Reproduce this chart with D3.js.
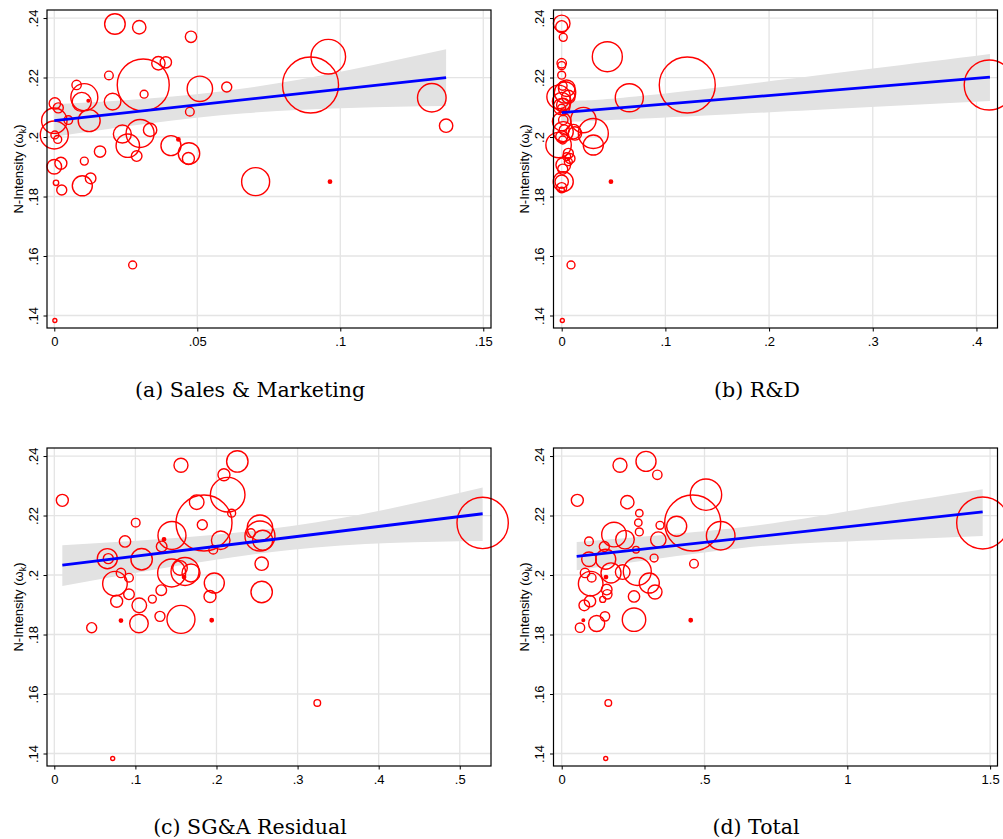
<!DOCTYPE html>
<html>
<head>
<meta charset="utf-8">
<script src="https://cdn.jsdelivr.net/npm/d3@7"></script>
<style>
body{margin:0;background:#fff;}
</style>
</head>
<body>
<script>

//------------------------------------------------------------------DATA
// each point: [x, N-intensity, weight]

var salesMkt = [
	[.0212,.2380,13.5],[.0297,.2369,5.7],[.0478,.2337,4.1],[.0958,.2270,38.2],
	[.0364,.2248,5.7],[.0390,.2251,4.1],[.0191,.2207,2.4],[.0311,.2175,86.2],
	[.0896,.2175,100],[.0509,.2162,20.6],[.0603,.2168,3.2],[.0078,.2175,2.8],
	[.0105,.2134,23.2],[.0096,.2118,11.5],[.0119,.2122,0.22],[.0204,.2119,8.8],
	[.0314,.2144,2.0],[.1320,.2132,26.1],[.1370,.2038,5.7],[.0474,.2085,2.4],
	[.0002,.2113,4.1],[.0014,.2098,3.2],[.0000,.2055,20.6],[.0049,.2057,2.4],
	[.0000,.2007,25],[.0002,.2007,2.0],[.0012,.1992,2.0],[.0122,.2055,15.4],
	[.0000,.1900,6.8],[.0023,.1912,4.6],[.0006,.1846,0.93],[.0026,.1822,3.2],
	[.0105,.1919,2.0],[.0098,.1836,12.8],[.0127,.1861,3.6],[.0160,.1951,4.1],
	[.0238,.2010,10.3],[.0257,.1971,17.5],[.0300,.2012,25],[.0335,.2024,5.7],
	[.0288,.1936,3.6],[.0408,.1971,12.8],[.0434,.1992,0.37],[.0471,.1945,14.6],
	[.0469,.1928,4.6],[.0704,.1850,25],[.0964,.1850,0.37],[.0274,.1570,2.0],
	[.0002,.1383,0.51]
]

var rnd = [
	[.0000,.2382,8.8],[.0000,.2371,4.6],[.0015,.2335,2.0],[.0000,.2248,2.8],
	[.0000,.2240,2.0],[.0000,.2208,2.0],[.0440,.2270,28.7],[.0010,.2172,2.4],
	[.0032,.2150,14.6],[-.0030,.2135,17.5],[.0000,.2119,11],[.0015,.2108,5.7],
	[.0000,.2097,2.0],[.0015,.2083,1.4],[.0209,.2057,20.6],[.0015,.2057,2.8],
	[.0000,.2052,11],[.0305,.2012,28.7],[.0305,.1973,12.8],[.0112,.2018,6.8],
	[.0015,.2018,12.8],[.0000,.2001,4.6],[.0010,.1990,2.0],[-.0030,.1973,20.6],
	[.0064,.1945,3.2],[.0080,.1928,3.2],[.0048,.1934,2.0],[.0064,.1917,2.0],
	[.0015,.1906,6.8],[.0010,.1892,3.2],[.0015,.1850,12.8],[.0000,.1850,5.7],
	[.0000,.1830,3.2],[.0000,.1822,0.93],[.0475,.1850,0.37],[.0090,.1570,2.0],
	[.0006,.1383,0.51],[.0652,.2132,25],[.1211,.2175,100],[.4123,.2175,79.7],
	[.0048,.2164,8.8],[.0065,.2135,5.7],[.0000,.2102,8.8],[.0128,.2012,5.7],
	[.0025,.2024,3.2]
]

var sgaResid = [
	[.0099,.2251,4.6],[.1562,.2369,6.25],[.2257,.2382,14.6],[.2092,.2337,4.6],
	[.2138,.2270,38.2],[.1756,.2245,6.8],[.2187,.2208,2.0],[.1846,.2175,100],
	[.1825,.2169,3.2],[.1004,.2176,2.4],[.2536,.2159,20.6],[.2536,.2131,28.7],
	[.2570,.2117,12.8],[.2425,.2141,2.4],[.1451,.2133,25],[.2052,.2117,11],
	[.1353,.2120,0.37],[.0872,.2113,4.1],[.1324,.2096,3.6],[.1960,.2085,2.4],
	[.0654,.2055,12.8],[.0666,.2055,3.2],[.1077,.2053,14.6],[.2557,.2038,5.7],
	[.0822,.2007,2.8],[.0921,.1991,2.4],[.0748,.1971,19.3],[.1447,.2007,25],
	[.1612,.2012,25],[.1550,.2024,6.8],[.1686,.2007,10.3],[.1600,.1993,0.37],
	[.1973,.1973,12.8],[.1920,.1928,4.6],[.2557,.1943,14.6],[.0921,.1935,3.6],
	[.0769,.1912,4.6],[.1209,.1919,2.0],[.1319,.1949,3.6],[.1048,.1898,6.8],
	[.1044,.1837,11],[.1303,.1861,3.2],[.1562,.1851,25],[.1941,.1848,0.37],
	[.0822,.1847,0.37],[.0461,.1823,3.2],[.3243,.1570,1.4],[.0720,.1383,0.51],
	[.5282,.2175,84]
]

var total = [
	[.2041,.2369,6.25],[.2952,.2382,12.8],[.3348,.2337,2.8],[.0547,.2251,4.6],
	[.2298,.2245,5.7],[.5052,.2270,31.4],[.2718,.2208,1.75],[.4587,.2175,100],
	[.4026,.2164,12.8],[.5567,.2132,26.1],[.3442,.2167,2.0],[.2683,.2176,1.75],
	[.2718,.2145,2.0],[.1831,.2136,19.3],[.2216,.2119,11],[.3383,.2119,7.6],
	[.2602,.2085,1.4],[.0956,.2113,2.4],[.1493,.2096,3.2],[.1541,.2053,12.8],
	[.0956,.2053,6.8],[.3235,.2057,2.0],[.4632,.2038,2.4],[.0816,.2007,2.8],
	[.1050,.1991,2.4],[.1015,.1971,19.3],[.1726,.2007,12.8],[.2136,.2010,6.8],
	[.2647,.2012,25],[.1551,.1993,0.37],[.3067,.1973,12.8],[.3267,.1943,6.25],
	[.2532,.1928,4.1],[.1576,.1951,3.6],[.1597,.1935,2.8],[.1436,.1918,1.15],
	[.0991,.1912,4.1],[.0791,.1898,3.6],[.1225,.1837,8.2],[.1516,.1861,2.8],
	[.2532,.1850,17.5],[.4517,.1848,0.37],[.0757,.1848,0.22],[.0641,.1823,2.8],
	[.1632,.1570,1.4],[.1541,.1383,0.51],[1.474,.2175,86.2]
]

// fitted line end points [x, y]
var fitA = [[0,.2055],[.137,.2200]]
var fitB = [[0,.2082],[.413,.2201]]
var fitC = [[.0099,.2033],[.5282,.2206]]
var fitD = [[.0525,.2063],[1.474,.2212]]

// confidence band [x, lower, upper]
var bandA = [[0,.2001,.2110],[.0667,.2080,.2164],[.137,.2104,.2295]]
var bandB = [[0,.2051,.2127],[.0852,.2063,.2141],[.413,.2121,.2279]]
var bandC = [[.0099,.1963,.2100],[.2906,.2084,.2164],[.5282,.2114,.2294]]
var bandD = [[.0525,.2016,.2111],[.624,.2090,.2160],[1.0,.2113,.2214],[1.474,.2131,.2288]]

// ticks
var yTicks = [.14,.16,.18,.2,.22,.24]
var xTicksA = [0,.05,.1,.15]
var xTicksB = [0,.1,.2,.3,.4]
var xTicksC = [0,.1,.2,.3,.4,.5]
var xTicksD = [0,.5,1,1.5]

var captions = ["(a) Sales & Marketing","(b) R&D","(c) SG&A Residual","(d) Total"]

//------------------------------------------------------------------SETUP

var W = 1003, H = 839
var svg = d3.select("body").append("svg").attr("width", W).attr("height", H)

var yDomain = [.1358,.2427]
var rScale = d3.scaleSqrt().domain([0,100]).range([0,28])

function fmt(v){
	return String(v).replace(/^0\./,".").replace(/^-0\./,"-.")
}

//------------------------------------------------------------------PANEL CLASS

function panel(container, box, xDomain){
	this.box = box
	this.g = container.append("g")
	this.x = d3.scaleLinear().domain(xDomain).range([box.x, box.x+box.w])
	this.y = d3.scaleLinear().domain(yDomain).range([box.y+box.h, box.y])
}

panel.prototype.grid = function(xTicks){
	var b = this.box, x = this.x, y = this.y
	this.g.selectAll(".gx").data(xTicks).enter().append("line")
		.attr("x1", d => x(d)).attr("x2", d => x(d))
		.attr("y1", b.y).attr("y2", b.y+b.h)
		.style("stroke","#e4e4e4").style("stroke-width",1.3)
	this.g.selectAll(".gy").data(yTicks).enter().append("line")
		.attr("x1", b.x).attr("x2", b.x+b.w)
		.attr("y1", d => y(d)).attr("y2", d => y(d))
		.style("stroke","#e4e4e4").style("stroke-width",1.3)
}

panel.prototype.fit = function(band, line){
	var x = this.x, y = this.y
	var area = d3.area().x(d => x(d[0])).y0(d => y(d[1])).y1(d => y(d[2])).curve(d3.curveNatural)
	this.g.append("path").attr("d", area(band)).style("fill","#e2e2e2")
	this.lineData = line
}

panel.prototype.points = function(data){
	var x = this.x, y = this.y
	this.g.selectAll(".pt").data(data).enter().append("circle")
		.attr("cx", d => x(d[0]))
		.attr("cy", d => y(d[1]))
		.attr("r", d => rScale(d[2]))
		.style("fill", d => rScale(d[2]) < 1.8 ? "#ff0000" : "none")
		.style("stroke","#ff0000")
		.style("stroke-width",1.4)

	// fitted line on top
	var l = d3.line().x(d => x(d[0])).y(d => y(d[1]))
	this.g.append("path").attr("d", l(this.lineData))
		.style("fill","none").style("stroke","#0000ff").style("stroke-width",2.8)
}

panel.prototype.axes = function(xTicks){
	var b = this.box

	this.g.append("rect")
		.attr("x", b.x).attr("y", b.y).attr("width", b.w).attr("height", b.h)
		.style("fill","none").style("stroke","#000").style("stroke-width",1.2)

	var ax = this.g.append("g").attr("transform","translate(0,"+(b.y+b.h)+")")
		.call(d3.axisBottom(this.x).tickValues(xTicks).tickFormat(fmt).tickSize(3.5).tickPadding(5))
	ax.select(".domain").remove()
	ax.selectAll("text").style("font-family","'Liberation Sans', Arial, sans-serif").style("font-size","13px").attr("fill","#000")

	var ay = this.g.append("g").attr("transform","translate("+b.x+",0)")
		.call(d3.axisLeft(this.y).tickValues(yTicks).tickFormat(fmt).tickSize(3.5))
	ay.select(".domain").remove()
	ay.selectAll("text")
		.attr("x",0).attr("dy",0)
		.attr("text-anchor","middle")
		.attr("transform","translate(-9.5,0) rotate(-90)")
		.style("font-family","'Liberation Sans', Arial, sans-serif").style("font-size","13px").attr("fill","#000")

	// y title
	var t = this.g.append("text")
		.attr("transform","translate("+(b.x-24.5)+","+(b.y+b.h/2)+") rotate(-90)")
		.attr("text-anchor","middle")
		.style("font-family","'Liberation Sans', Arial, sans-serif").style("font-size","13px")
	t.append("tspan").text("N-Intensity (\u03c9")
	t.append("tspan").text("k").style("font-size","9px").attr("dy",3)
	t.append("tspan").text(")").attr("dy",-3)
}

panel.prototype.caption = function(txt, cx, cy){
	this.g.append("text").attr("x",cx).attr("y",cy)
		.attr("text-anchor","middle")
		.style("font-family","'DejaVu Serif', serif").style("font-size","20.5px")
		.text(txt)
}

//------------------------------------------------------------------DRAW

var boxes = [
	{x:47, y:10, w:444, h:318},
	{x:553.5, y:10, w:444, h:318},
	{x:47, y:448, w:444, h:318},
	{x:553.5, y:448, w:444, h:318}
]

var setup = [
	{data: salesMkt, band: bandA, fitLine: fitA, ticks: xTicksA, dom: [-.00255,.1527], cap: [250,397]},
	{data: rnd, band: bandB, fitLine: fitB, ticks: xTicksB, dom: [-.0079,.4203], cap: [757,397]},
	{data: sgaResid, band: bandC, fitLine: fitC, ticks: xTicksC, dom: [-.009,.5385], cap: [250,834]},
	{data: total, band: bandD, fitLine: fitD, ticks: xTicksD, dom: [-.0287,1.5259], cap: [756,834]}
]

for(var i=0;i<setup.length;i++){
	var s = setup[i]
	var p = new panel(svg, boxes[i], s.dom)
	p.grid(s.ticks)
	p.fit(s.band, s.fitLine)
	p.points(s.data)
	p.axes(s.ticks)
	p.caption(captions[i], s.cap[0], s.cap[1])
}

</script>
</body>
</html>
